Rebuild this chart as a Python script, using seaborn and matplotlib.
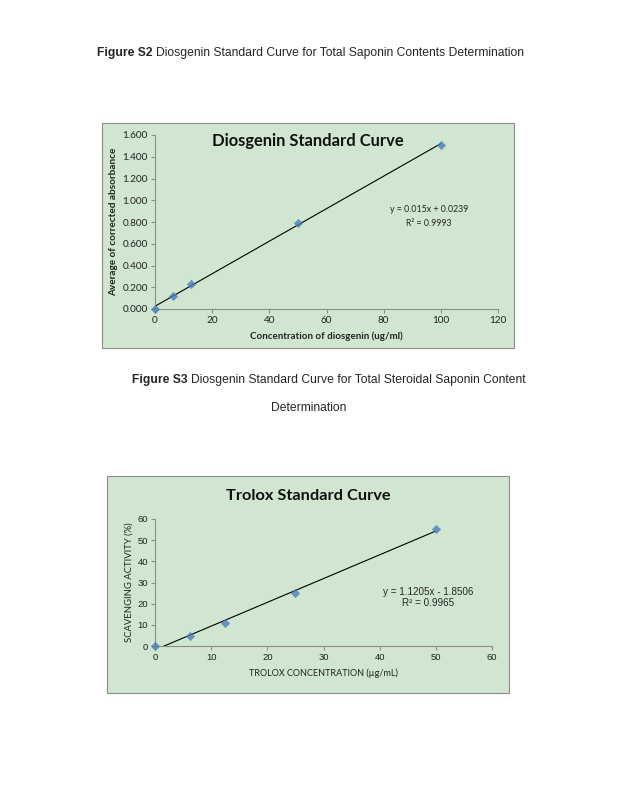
import numpy as np
import pandas as pd
import seaborn as sns
from matplotlib import pyplot as plt
from matplotlib.patches import Rectangle

# diosgenin standard curve
dio_conc = [0, 6.25, 12.5, 50, 100]
dio_abs = [0.000, 0.120, 0.230, 0.790, 1.510]
dio_ticks_x = [0, 20, 40, 60, 80, 100, 120]
dio_ticks_y = [0.0, 0.2, 0.4, 0.6, 0.8, 1.0, 1.2, 1.4, 1.6]

# trolox standard curve
tro_conc = [0, 6.25, 12.5, 25, 50]
tro_act = [0.0, 4.7, 11.0, 25.2, 55.2]
tro_ticks_x = [0, 10, 20, 30, 40, 50, 60]
tro_ticks_y = [0, 10, 20, 30, 40, 50, 60]

W, H = 618, 800
GREEN = '#d0e6d0'
EDGE = '#8c8c8c'
BLUE = '#4a7ebb'
CAL = ['Lato', 'DejaVu Sans']
ARIAL = ['Liberation Sans', 'DejaVu Sans']
CAP_SIZE = 8.7

sns.set_theme(style='white')
plt.rcParams['font.family'] = CAL

fig = plt.figure(figsize=(W / 100, H / 100), dpi=100)


def px_axes(l, t, r, b):
    ax = fig.add_axes([l / W, 1 - b / H, (r - l) / W, (b - t) / H])
    ax.set_zorder(2)
    return ax


def frame(l, t, r, b):
    fig.patches.append(Rectangle((l / W, 1 - b / H), (r - l) / W, (b - t) / H,
                                 transform=fig.transFigure, facecolor=GREEN,
                                 edgecolor=EDGE, linewidth=0.8, zorder=-1))


def fig_text(x, y, s, **kw):
    return fig.text(x / W, 1 - y / H, s, **kw)


def caption(x, y, bold, rest):
    t = fig_text(x, y, bold, fontsize=CAP_SIZE, fontweight='bold', family=ARIAL,
                 va='center', ha='left')
    r = fig.canvas.get_renderer()
    bb = t.get_window_extent(renderer=r)
    fig_text(bb.x1 + 3, y, rest, fontsize=CAP_SIZE, family=ARIAL, va='center', ha='left')


def style_axes(ax, xt, yt, tick_family, tick_size, yfmt):
    ax.set_facecolor('none')
    for s in ['top', 'right']:
        ax.spines[s].set_visible(False)
    for s in ['left', 'bottom']:
        ax.spines[s].set_color(EDGE)
        ax.spines[s].set_linewidth(0.8)
    ax.set_xticks(xt)
    ax.set_yticks(yt)
    ax.set_xlim(xt[0], xt[-1])
    ax.set_ylim(yt[0], yt[-1])
    ax.yaxis.set_major_formatter(yfmt)
    ax.tick_params(axis='both', direction='out', length=3, width=0.8,
                   color=EDGE, labelsize=tick_size, pad=2, bottom=True, left=True)
    for lab in ax.get_xticklabels() + ax.get_yticklabels():
        lab.set_family(tick_family)
        lab.set_color('#222222')


# ---- chart 1
frame(102, 123, 514, 348)
ax1 = px_axes(155, 135, 498, 309)
sns.regplot(x=dio_conc, y=dio_abs, ax=ax1, ci=None, marker='D',
            scatter_kws=dict(s=22, color=BLUE, zorder=3, linewidths=0, clip_on=False),
            line_kws=dict(color='black', linewidth=0.8))
style_axes(ax1, dio_ticks_x, dio_ticks_y, CAL, 7.2, '{x:.3f}')
ax1.set_xlabel('Concentration of diosgenin (ug/ml)', fontsize=7.0, fontweight='bold',
               labelpad=5, color='#222222')
ax1.set_ylabel('Average of corrected absorbance', fontsize=7.2, fontweight='bold',
               labelpad=3, color='#222222')
fig_text(308, 141, 'Diosgenin Standard Curve', fontsize=11.9, fontweight='bold',
         ha='center', va='center', color='#111111')
fig_text(429, 210, 'y = 0.015x + 0.0239', fontsize=6.3, ha='center', va='center')
fig_text(429, 223, 'R² = 0.9993', fontsize=6.3, ha='center', va='center')

# ---- chart 2
frame(107, 476, 509, 693)
ax2 = px_axes(155, 519, 492, 646)
sns.regplot(x=tro_conc, y=tro_act, ax=ax2, ci=None, marker='D',
            scatter_kws=dict(s=22, color=BLUE, zorder=3, linewidths=0, clip_on=False),
            line_kws=dict(color='black', linewidth=0.8))
style_axes(ax2, tro_ticks_x, tro_ticks_y, ARIAL, 6.8, '{x:.0f}')
ax2.set_xlabel('TROLOX CONCENTRATION (µg/mL)', fontsize=6.5, labelpad=5,
               color='#222222')
ax2.set_ylabel('SCAVENGING ACTIVITY (%)', fontsize=6.8, labelpad=3, color='#222222')
fig_text(308, 496, 'Trolox Standard Curve', fontsize=11.8, fontweight='bold',
         ha='center', va='center', color='#111111')
fig_text(428, 592, 'y = 1.1205x - 1.8506', fontsize=7.1, family=ARIAL,
         ha='center', va='center')
fig_text(428, 603, 'R² = 0.9965', fontsize=7.1, family=ARIAL, ha='center', va='center')

# ---- captions
caption(97, 53, 'Figure S2', 'Diosgenin Standard Curve for Total Saponin Contents Determination')
caption(132, 380, 'Figure S3', 'Diosgenin Standard Curve for Total Steroidal Saponin Content')
fig_text(309, 408, 'Determination', fontsize=CAP_SIZE, family=ARIAL, ha='center', va='center')

fig.savefig('out.png', dpi=100)
